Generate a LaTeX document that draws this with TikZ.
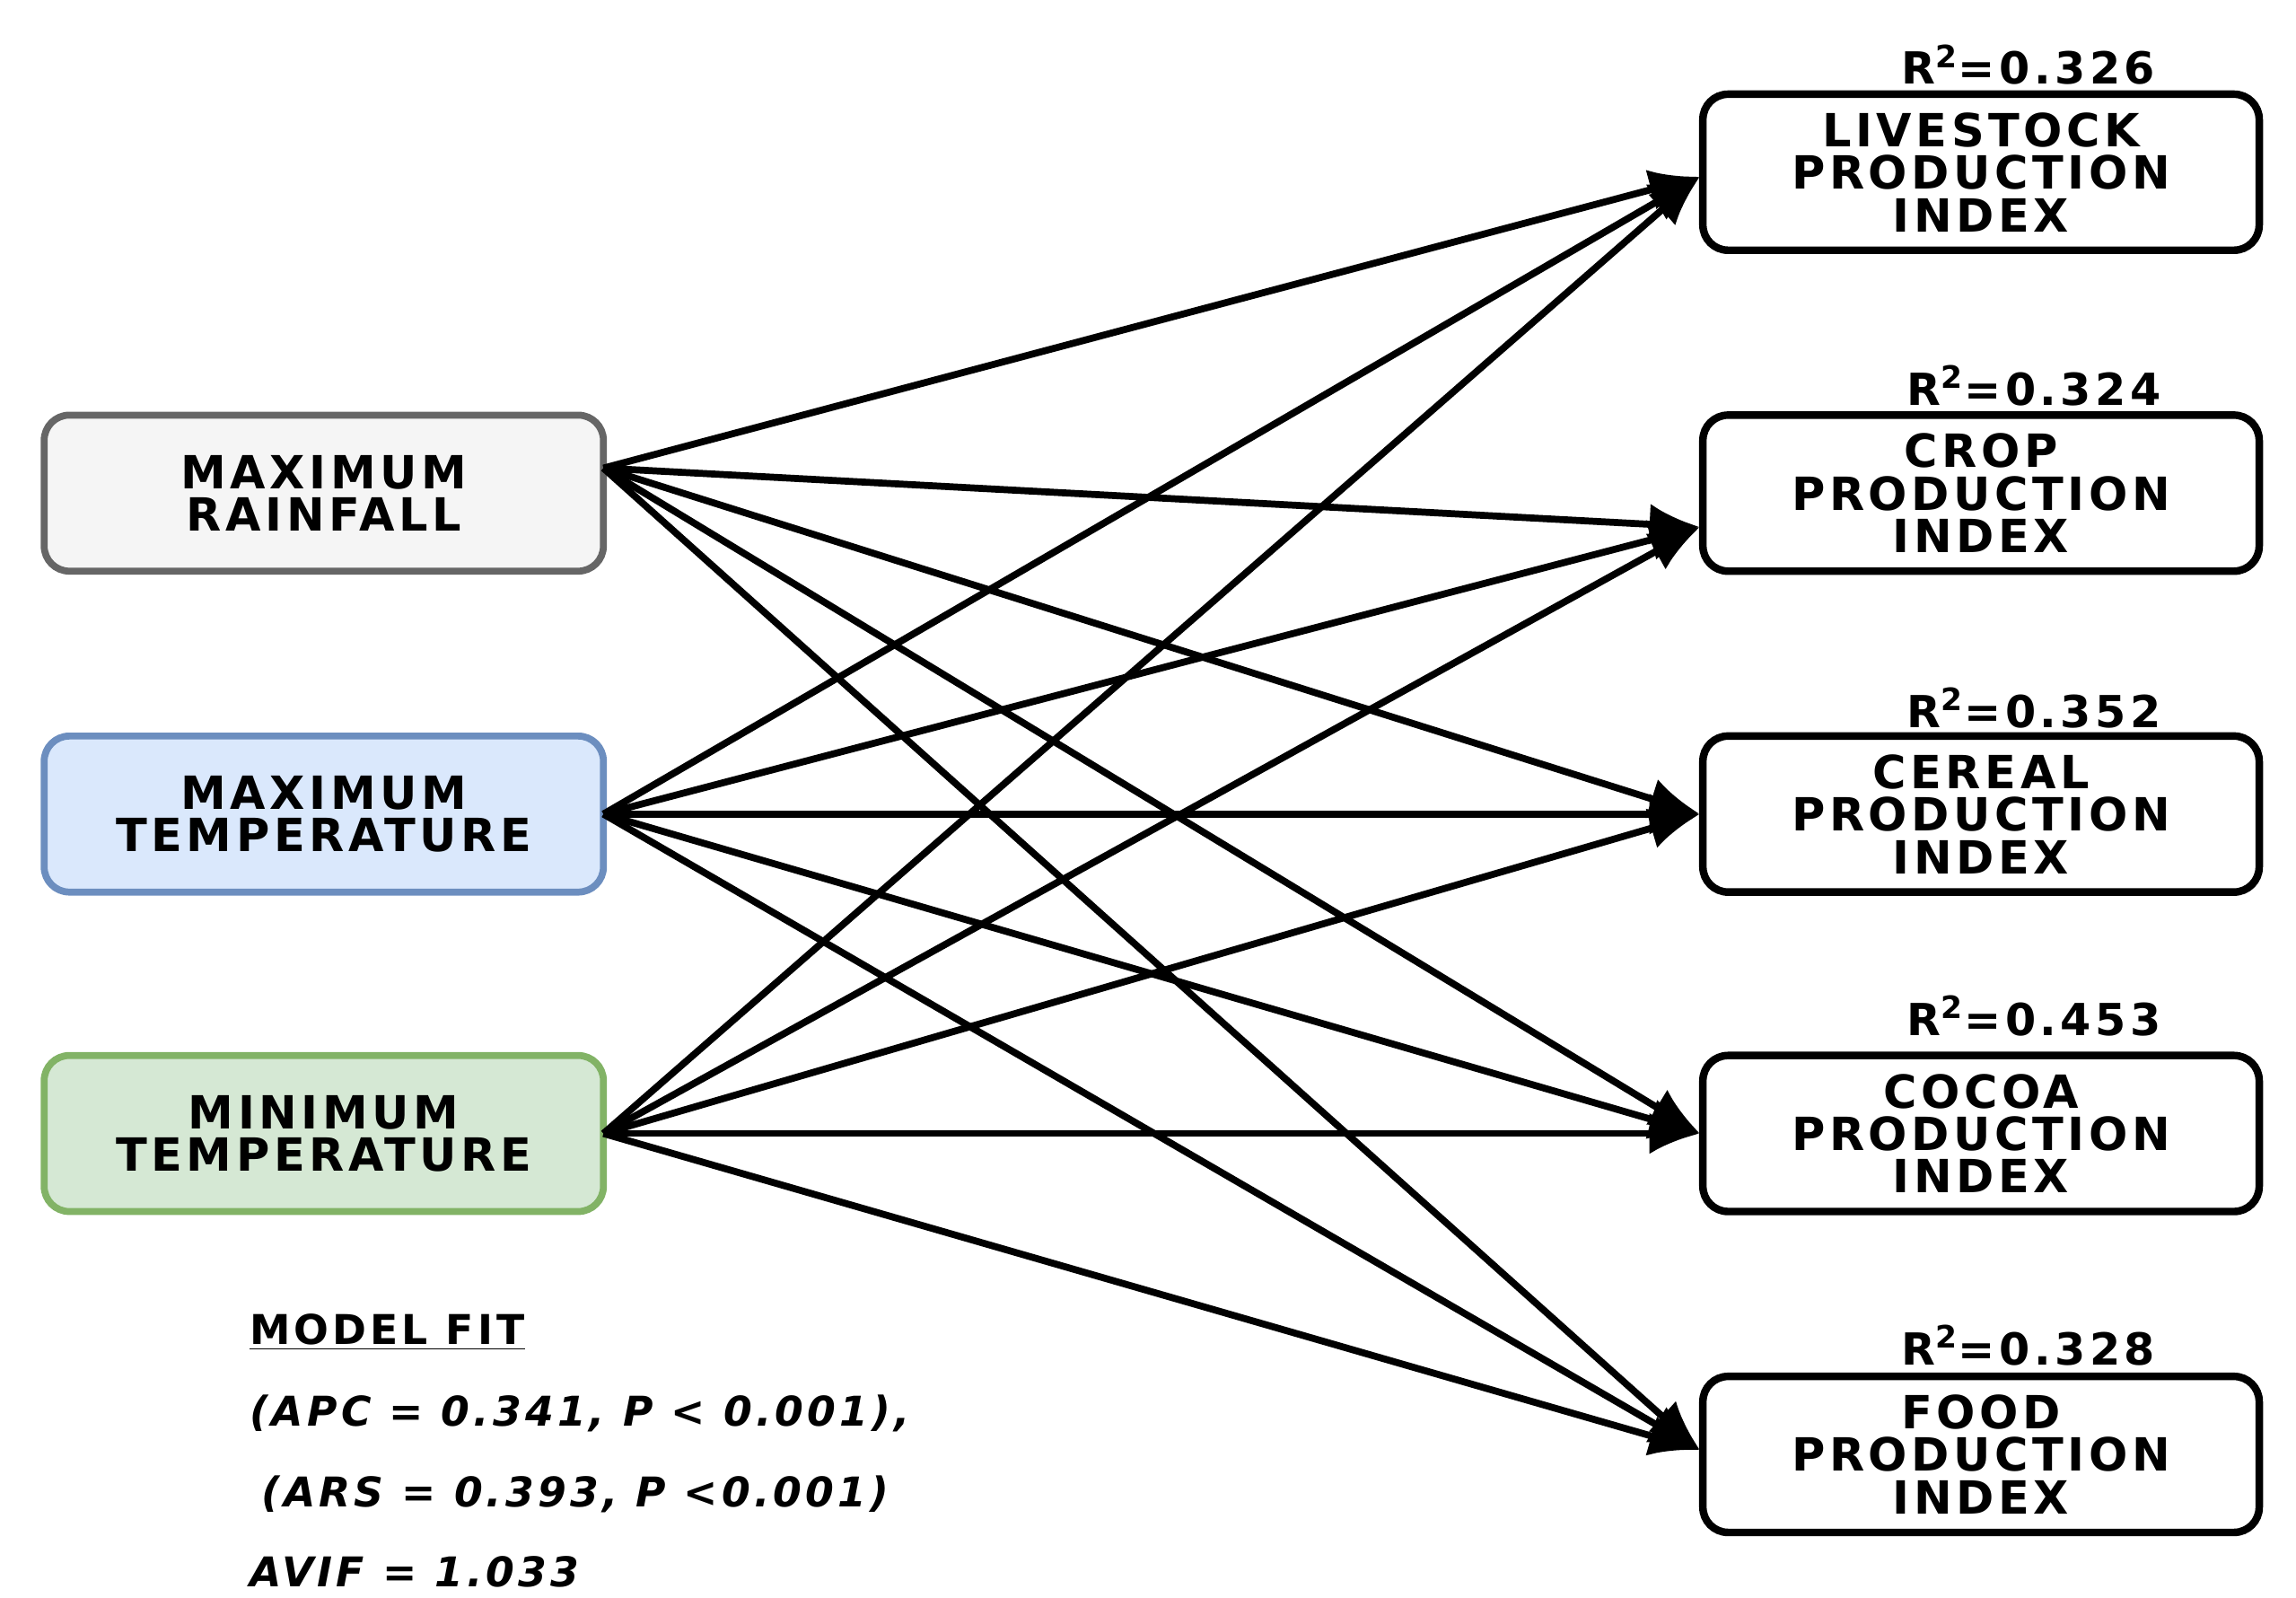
\documentclass[tikz,border=0pt]{standalone}
\usepackage{fontspec}
\setmainfont{DejaVu Sans}[LetterSpace=9]
\usetikzlibrary{arrows.meta}
\definecolor{bfill}{HTML}{DAE8FC}\definecolor{bdraw}{HTML}{6C8EBF}
\definecolor{gfill}{HTML}{D5E8D4}\definecolor{gdraw}{HTML}{82B366}
\begin{document}
\begin{tikzpicture}[x=0.0164cm,y=-0.0164cm,
 box/.style={draw,rounded corners=8pt,line width=2.2pt,minimum width=380*0.0164cm,minimum height=106*0.0164cm,align=center,font=\fontsize{14.5}{13.5}\selectfont\bfseries},
 rbox/.style={box,minimum width=378*0.0164cm,line width=2.4pt},
 arr/.style={line width=2.2pt,-{Latex[length=16pt,width=13pt]}},
 rl/.style={font=\fontsize{14}{16}\selectfont\bfseries},
 mf/.style={anchor=west,font=\fontsize{13}{16}\selectfont\bfseries\itshape}]
\useasboundingbox (0,0) rectangle (1560,1085);
\node[box,draw=black!60,fill=black!4] (rain) at (220,335) {MAXIMUM\\RAINFALL};
\node[box,draw=bdraw,fill=bfill] (tmax) at (220,553) {MAXIMUM\\TEMPERATURE};
\node[box,draw=gdraw,fill=gfill] (tmin) at (220,770) {MINIMUM\\TEMPERATURE};
\node[rbox] (live) at (1346,117) {LIVESTOCK\\PRODUCTION\\INDEX};
\node[rbox] (crop) at (1346,335) {CROP\\PRODUCTION\\INDEX};
\node[rbox] (cer) at (1346,553) {CEREAL\\PRODUCTION\\INDEX};
\node[rbox] (coc) at (1346,770) {COCOA\\PRODUCTION\\INDEX};
\node[rbox] (food) at (1346,988) {FOOD\\PRODUCTION\\INDEX};
\node[rl] (r1) at (1378,44) {R$^{\mathbf 2}$=0.326};
\node[rl] (r2) at (1382,262) {R$^{\mathbf 2}$=0.324};
\node[rl] (r3) at (1382,481) {R$^{\mathbf 2}$=0.352};
\node[rl] (r4) at (1382,690) {R$^{\mathbf 2}$=0.453};
\node[rl] (r5) at (1378,914) {R$^{\mathbf 2}$=0.328};
\coordinate (s1) at (410,318);
\coordinate (s2) at (410,553);
\coordinate (s3) at (410,770);
\coordinate (t1) at (1155,120);
\coordinate (t2) at (1155,358);
\coordinate (t3) at (1155,553);
\coordinate (t4) at (1155,770);
\coordinate (t5) at (1155,985);
\foreach \s in {s1,s2,s3}{\foreach \t in {t1,t2,t3,t4,t5}{\draw[arr] (\s)--(\t);}}
\node[anchor=west,font=\fontsize{13}{16}\selectfont\bfseries] (mf0) at (162,905) {\underline{MODEL FIT}};
\node[mf] (mf1) at (162,960) {(APC = 0.341, P < 0.001),};
\node[mf] (mf2) at (170,1015) {(ARS = 0.393, P <0.001)};
\node[mf] (mf3) at (162,1068) {AVIF = 1.033};
\end{tikzpicture}
\end{document}
